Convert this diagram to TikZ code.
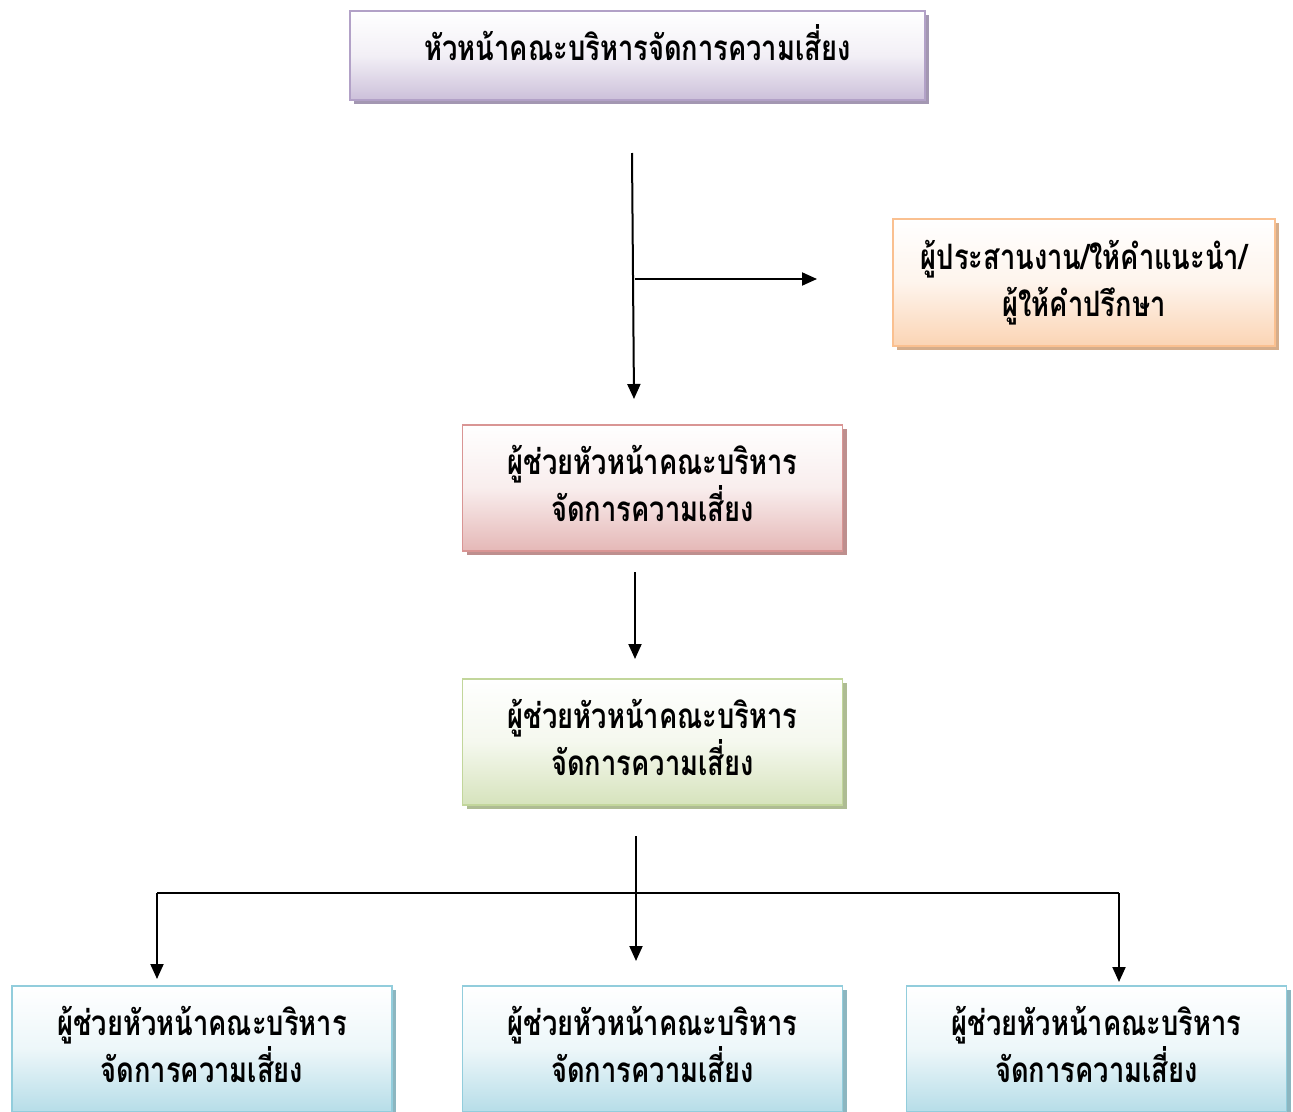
\documentclass[tikz,border=0pt]{standalone}
\usepackage{fontspec}
\newfontfamily\thaifont[Script=Thai,FakeStretch=0.78]{Loma}
\usepackage{tikz}
\usetikzlibrary{arrows.meta,shadows,positioning}

\definecolor{purpleL}{HTML}{CCC0DA}
\definecolor{purpleD}{HTML}{B2A1C7}
\definecolor{orangeL}{HTML}{FBD4B4}
\definecolor{orangeD}{HTML}{FAC090}
\definecolor{redL}{HTML}{E5B8B7}
\definecolor{redD}{HTML}{D99594}
\definecolor{greenL}{HTML}{D6E3BC}
\definecolor{greenD}{HTML}{C2D69B}
\definecolor{blueL}{HTML}{B6DDE8}
\definecolor{blueD}{HTML}{92CDDC}

\newcommand{\asstlabel}{ผู้ช่วยหัวหน้าคณะบริหาร\\จัดการความเสี่ยง\rule[-10pt]{0pt}{0pt}}

\begin{document}
\begin{tikzpicture}[x=1pt,y=-1pt,
	box/.style={draw=#1D,line width=1.5pt,top color=white,bottom color=#1L,
		middle color=#1L!25!white,
		drop shadow={shadow xshift=4pt,shadow yshift=-4pt,fill=#1D!70!gray,opacity=1},
		align=center,font=\thaifont\bfseries\fontsize{35}{47}\selectfont,
		minimum width=380pt,minimum height=126pt,inner sep=0pt},
	arr/.style={line width=2pt,-{Triangle[length=15pt,width=13pt]}}]
	\useasboundingbox (0,0) rectangle (1293,1111);
	% boxes
	\node[box=purple,minimum width=575pt,minimum height=89pt] (head) at (637.5,55.5) {\raisebox{13pt}[\height][\depth]{หัวหน้าคณะบริหารจัดการความเสี่ยง}};
	\node[box=orange,minimum width=382pt,minimum height=127pt] (coord) at (1084,282.5) {ผู้ประสานงาน/ให้คำแนะนำ/\\ผู้ให้คำปรึกษา};
	\node[box=red] (asst1) at (652.5,488) {\asstlabel};
	\node[box=green] (asst2) at (652.5,742) {\asstlabel};
	\node[box=blue] (left) at (202,1049) {\asstlabel};
	\node[box=blue] (mid) at (652.5,1049) {\asstlabel};
	\node[box=blue] (right) at (1096.5,1049) {\asstlabel};
	% arrow ends
	\coordinate (v1) at (632,153);
	\coordinate (v2) at (634,399);
	\coordinate (h1) at (635,279);
	\coordinate (h2) at (817,279);
	\coordinate (r1) at (635,572);
	\coordinate (r2) at (635,659);
	\coordinate (g1) at (636,836);
	\coordinate (g2) at (636,961);
	\coordinate (bl) at (157,893);
	\coordinate (br) at (1119,893);
	\coordinate (tl) at (157,979);
	\coordinate (tr) at (1119,982);
	% arrows
	\draw[arr] (v1)--(v2);
	\draw[arr] (h1)--(h2);
	\draw[arr] (r1)--(r2);
	\draw[arr] (g1)--(g2);
	\draw[line width=2pt] (bl)--(br);
	\draw[arr] (bl)--(tl);
	\draw[arr] (br)--(tr);
\end{tikzpicture}
\end{document}
